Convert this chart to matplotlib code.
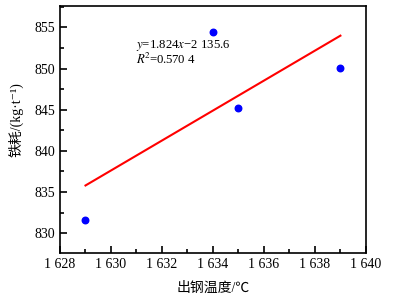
import numpy as np
import matplotlib.pyplot as plt
from matplotlib.ticker import MultipleLocator, FuncFormatter

temp = [1629, 1634, 1635, 1639]
iron_loss = [831.6, 854.5, 845.2, 850.1]
x_ticks = [1628, 1630, 1632, 1634, 1636, 1638, 1640]
y_ticks = [830, 835, 840, 845, 850, 855]

plt.rcParams['font.family'] = ['Liberation Serif', 'Noto Sans CJK SC', 'DejaVu Serif']
plt.rcParams['mathtext.fontset'] = 'stix'

fig = plt.figure(figsize=(3.96, 2.99), dpi=100)
ax = fig.add_axes([0.1515, 0.154, 0.7725, 0.826])

ax.scatter(temp, iron_loss, s=22, color='#0000ff', zorder=3)
k, b = np.polyfit(temp, iron_loss, 1)
xs = np.array([min(temp), max(temp)])
ax.plot(xs, k * xs + b, color='#ff0000', lw=1.5)

ax.set_xlim(1628, 1640)
ax.set_ylim(827.6, 857.6)
ax.set_xticks(x_ticks)
ax.set_yticks(y_ticks)
ax.xaxis.set_minor_locator(MultipleLocator(1))
ax.yaxis.set_minor_locator(MultipleLocator(2.5))
ax.xaxis.set_major_formatter(FuncFormatter(lambda v, p: '1 %03d' % (int(v) - 1000)))
ax.tick_params(which='both', direction='in', top=False, right=False, labelsize=10)
ax.tick_params(which='major', length=5, width=1.2)
ax.tick_params(which='minor', length=3, width=1.2)
for s in ax.spines.values():
    s.set_linewidth(1.2)

ax.text(1631.0, 852.5, '$y$=1.824$x$\u22122 135.6', fontsize=9.2)
ax.text(1631.0, 850.5, '$R$$^2$=0.570 4', fontsize=9.2)

ax.set_xlabel('出钢温度/℃', fontsize=10, labelpad=8)
ax.set_ylabel('铁耗/(kg·t\u207b\u00b9)', fontsize=10)
ax.yaxis.set_label_coords(-0.12, 0.54)

fig.savefig('out.png', dpi=100)
